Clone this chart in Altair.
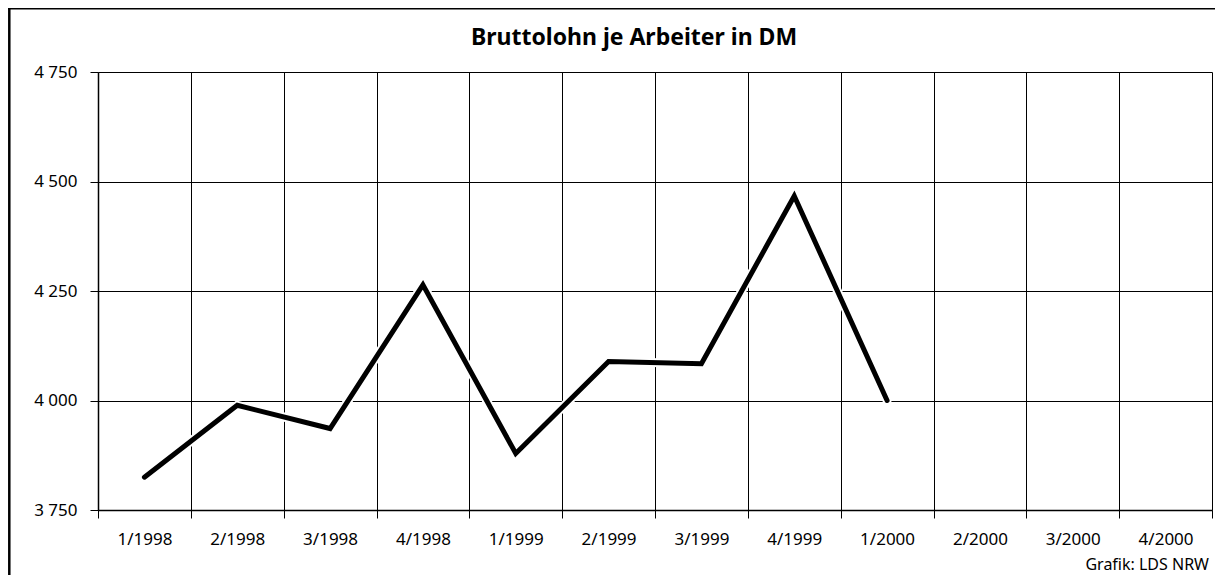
import altair as alt
import pandas as pd

quarters = ["1/1998", "2/1998", "3/1998", "4/1998",
            "1/1999", "2/1999", "3/1999", "4/1999",
            "1/2000", "2/2000", "3/2000", "4/2000"]
wages = [3825, 3989, 3936, 4264, 3879, 4089, 4084, 4467, 4000, None, None, None]
y_ticks = [3750, 4000, 4250, 4500, 4750]

title_text = "Bruttolohn je Arbeiter in DM"
source_text = "Grafik: LDS NRW"

df = pd.DataFrame({"quartal": quarters, "lohn": wages})

FONT = "Noto Sans"

x_enc = alt.X(
    "quartal:N",
    sort=quarters,
    bandPosition=0.5,
    scale=alt.Scale(type="band", domain=quarters, paddingInner=0, paddingOuter=0),
    axis=alt.Axis(
        title=None, labelAngle=0, tickBand="extent",
        grid=True, gridColor="black", gridOpacity=1, gridWidth=1,
        domainColor="black", domainWidth=1.5, tickColor="black", tickSize=8, tickWidth=1,
        labelPadding=13, labelFont=FONT, labelFontSize=17, labelColor="black",
    ),
)
y_enc = alt.Y(
    "lohn:Q",
    scale=alt.Scale(domain=[3750, 4750], nice=False, zero=False),
    axis=alt.Axis(
        values=y_ticks, title=None,
        labelExpr="replace(format(datum.value, ','), ',', ' ')",
        grid=True, gridColor="black", gridOpacity=1, gridWidth=1,
        domainColor="black", domainWidth=1.5, tickColor="black", tickSize=8, tickWidth=1,
        labelPadding=13, labelFont=FONT, labelFontSize=17, labelColor="black",
    ),
)

base = alt.Chart(df).encode(x=x_enc, y=y_enc)
halo = base.mark_line(color="white", strokeWidth=9, strokeCap="round", strokeJoin="miter")
line = base.mark_line(color="black", strokeWidth=5, strokeCap="round", strokeJoin="miter")

one = alt.Data(values=[{}])
title = alt.Chart(one).mark_text(
    text=title_text, font=FONT, fontSize=23, fontWeight="bold",
    align="center", baseline="alphabetic", color="black",
).encode(x=alt.value(536), y=alt.value(-27))

source = alt.Chart(one).mark_text(
    text=source_text, font=FONT, fontSize=16,
    align="right", baseline="alphabetic", color="black",
).encode(x=alt.value(1111), y=alt.value(498))

top_border = alt.Chart(one).mark_rule(color="black", strokeWidth=3).encode(
    x=alt.value(-95), x2=alt.value(1125), y=alt.value(-64))
left_border = alt.Chart(one).mark_rule(color="black", strokeWidth=2.5).encode(
    x=alt.value(-88.7), y=alt.value(-70), y2=alt.value(510))

chart = alt.layer(halo, line, title, source, top_border, left_border).properties(
    width=1114, height=438,
    autosize=alt.AutoSizeParams(type="none"),
    padding={"left": 90, "top": 64, "right": 3, "bottom": 65},
    background="white",
).configure_view(stroke=None)

chart.save("out.html", embed_options={"renderer": "svg", "actions": False})
